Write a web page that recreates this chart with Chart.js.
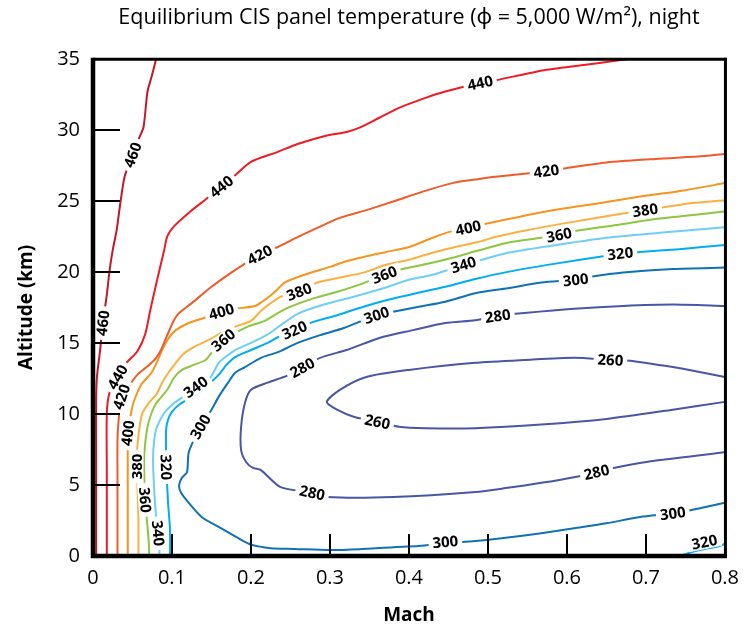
<!DOCTYPE html>
<html><head><meta charset="utf-8">
<script src="https://cdn.jsdelivr.net/npm/chart.js@4.4.1/dist/chart.umd.min.js"></script>
<style>html,body{margin:0;padding:0;background:#fff;} canvas{display:block;}</style>
</head><body>
<canvas id="c" width="749" height="633"></canvas>
<script>
// ---- text ----
const chartTitle = 'Equilibrium CIS panel temperature (\u03D5 = 5,000 W/m\u00B2), night';
const xTitle = 'Mach';
const yTitle = 'Altitude (km)';
// ---- tick values ----
const xTicks = [0, 0.1, 0.2, 0.3, 0.4, 0.5, 0.6, 0.7, 0.8];
const yTicks = [0, 5, 10, 15, 20, 25, 30, 35];
// ---- contour lines: [Mach, altitude km] ----
const c460 = [[0.004,0],[0.004,7.46],[0.004,11],[0.005,12.6],[0.009,14.5],[0.0125,16.4],[0.0175,18.4],[0.021,20.1],[0.025,21.55],[0.03,22.96],[0.034,24.6],[0.04,26.7],[0.05,28.24],[0.059,29.5],[0.064,30.2],[0.069,32.7],[0.074,33.7],[0.08,35]];
const c440 = [[0.0175,0],[0.0175,6],[0.0175,10.1],[0.021,11.5],[0.031,12.6],[0.0425,13.6],[0.056,14.4],[0.066,15.6],[0.0725,17.3],[0.081,19.4],[0.09,21.5],[0.094,22.5],[0.1025,23.2],[0.121,24.15],[0.1425,25.1],[0.1625,26],[0.18,26.8],[0.2,27.75],[0.234,28.45],[0.259,29],[0.296,29.6],[0.321,29.85],[0.3375,30.15],[0.3625,30.85],[0.3875,31.55],[0.421,32.25],[0.446,32.7],[0.49,33.3],[0.511,33.5],[0.571,34.2],[0.634,34.65],[0.68,35]];
const c420 = [[0.031,0],[0.031,5.35],[0.031,8.2],[0.0325,9.6],[0.036,11.2],[0.049,12.25],[0.056,12.75],[0.071,13.45],[0.08,13.95],[0.086,14.5],[0.094,15.55],[0.1025,16.6],[0.109,17.1],[0.125,17.8],[0.15,18.95],[0.175,19.95],[0.19,20.5],[0.211,21.2],[0.234,21.75],[0.259,22.45],[0.284,23.1],[0.3125,23.8],[0.346,24.35],[0.38,24.95],[0.4175,25.65],[0.455,26.25],[0.484,26.5],[0.509,26.7],[0.5525,26.95],[0.574,27.1],[0.599,27.3],[0.65,27.7],[0.7125,27.95],[0.775,28.15],[0.8,28.3]];
const c400 = [[0.044,0],[0.044,5.35],[0.044,7.7],[0.044,8.65],[0.049,10.3],[0.0525,11],[0.061,12.05],[0.074,12.9],[0.081,13.65],[0.0875,14.5],[0.096,15.35],[0.105,15.9],[0.121,16.4],[0.14,16.75],[0.1625,17.2],[0.18,17.4],[0.205,17.6],[0.214,17.9],[0.224,18.3],[0.234,18.8],[0.2425,19.25],[0.2675,19.8],[0.3,20.35],[0.3175,20.7],[0.3425,21.05],[0.371,21.4],[0.4,21.75],[0.43,22.4],[0.45,22.8],[0.475,23.1],[0.499,23.4],[0.5375,23.85],[0.584,24.35],[0.6425,24.85],[0.6925,25.3],[0.75,25.75],[0.8,26.25]];
const c380 = [[0.0575,0],[0.0575,2.55],[0.056,5.35],[0.055,6.3],[0.056,7.6],[0.059,9.1],[0.0625,10.05],[0.071,10.8],[0.08,11.35],[0.0875,12.2],[0.096,12.95],[0.105,13.6],[0.114,14.2],[0.1275,14.7],[0.146,15.2],[0.1625,15.7],[0.18,16.15],[0.2,16.55],[0.2125,17.25],[0.225,17.8],[0.2375,18.25],[0.261,18.6],[0.284,19.25],[0.3125,19.6],[0.3425,19.95],[0.371,20.5],[0.4,20.85],[0.43,21.35],[0.455,21.7],[0.4875,22.1],[0.509,22.45],[0.546,22.9],[0.6,23.45],[0.659,24],[0.699,24.35],[0.759,24.85],[0.8,25.05]];
const c360 = [[0.071,0],[0.071,0.65],[0.069,2.05],[0.066,3.95],[0.065,5.35],[0.065,7.25],[0.069,9.1],[0.074,10.05],[0.08,10.75],[0.094,11.7],[0.1025,12.55],[0.1125,13.1],[0.1275,13.45],[0.1425,13.8],[0.15,14.3],[0.165,15.2],[0.18,15.7],[0.196,16.15],[0.2175,16.55],[0.234,17.1],[0.25,17.55],[0.28,18.15],[0.309,18.6],[0.3375,19.1],[0.369,19.8],[0.3875,20.15],[0.4175,20.5],[0.455,21],[0.4875,21.5],[0.525,22.05],[0.5675,22.4],[0.59,22.6],[0.6125,22.9],[0.6625,23.3],[0.7175,23.75],[0.8,24.25]];
const c340 = [[0.084,0],[0.084,0.55],[0.0825,1.6],[0.08,2.75],[0.0775,4.65],[0.076,6.75],[0.0775,8.15],[0.081,9.1],[0.09,10.05],[0.1,10.65],[0.1125,11.15],[0.13,11.9],[0.149,12.6],[0.159,13.6],[0.1675,14],[0.18,14.5],[0.2,15],[0.221,15.6],[0.234,16.1],[0.259,17.05],[0.2925,17.7],[0.33,18.25],[0.3675,18.85],[0.4,19.45],[0.43,19.8],[0.469,20.5],[0.4925,20.85],[0.525,21.35],[0.5875,21.9],[0.65,22.4],[0.7175,22.75],[0.8,23.15]];
const c320 = [[0.0975,0],[0.0975,1.85],[0.095,3.75],[0.094,4.85],[0.0925,6.25],[0.0925,7.45],[0.0925,8.85],[0.095,9.6],[0.1,10.15],[0.109,10.65],[0.125,11.2],[0.1425,11.9],[0.159,12.75],[0.169,13.45],[0.18,14],[0.2,14.5],[0.221,15],[0.234,15.4],[0.255,15.9],[0.28,16.5],[0.309,16.95],[0.3425,17.55],[0.375,18.05],[0.409,18.5],[0.446,18.95],[0.484,19.5],[0.525,20],[0.5875,20.6],[0.646,21.1],[0.6675,21.3],[0.6925,21.4],[0.7425,21.6],[0.8,21.9]];
const c320b = [[0.744,0],[0.759,0.3],[0.774,0.5],[0.79,0.65],[0.8,0.85]];
const c300 = [[0.8,20.3],[0.734,20.2],[0.671,19.95],[0.63,19.65],[0.611,19.45],[0.5675,19.25],[0.525,18.85],[0.484,18.5],[0.446,17.9],[0.4125,17.55],[0.38,17.2],[0.359,16.95],[0.3175,16.05],[0.2875,15.55],[0.259,15],[0.234,14.35],[0.2125,13.95],[0.1925,13.3],[0.18,12.9],[0.171,12.2],[0.159,11.2],[0.15,10.3],[0.136,9.1],[0.1275,8.15],[0.121,7.25],[0.119,5.9],[0.1125,5.5],[0.109,5],[0.111,4.5],[0.121,3.75],[0.1375,2.75],[0.159,2.05],[0.184,1.25],[0.2,0.8],[0.225,0.55],[0.255,0.5],[0.3,0.42],[0.3375,0.48],[0.38,0.62],[0.4125,0.7],[0.446,0.9],[0.484,1.05],[0.525,1.3],[0.5675,1.6],[0.609,1.95],[0.65,2.3],[0.6925,2.75],[0.734,3],[0.759,3.25],[0.8,3.75]];
const c280 = [[0.8,17.6],[0.734,17.7],[0.671,17.6],[0.609,17.4],[0.546,17.1],[0.5125,16.9],[0.484,16.6],[0.446,16.4],[0.405,15.9],[0.3625,15.35],[0.321,14.5],[0.2875,13.95],[0.265,13.25],[0.246,12.7],[0.221,12.2],[0.2,11.7],[0.1925,10.8],[0.1875,9.1],[0.1875,7.45],[0.194,6.6],[0.2025,6.2],[0.2125,6.05],[0.2375,4.85],[0.2775,4.45],[0.296,4.15],[0.38,4.15],[0.484,4.5],[0.525,4.8],[0.5675,5.15],[0.609,5.55],[0.6375,5.9],[0.659,6.2],[0.7175,6.75],[0.8,7.3]];
const c260 = [[0.8,12.6],[0.755,13.1],[0.734,13.3],[0.68,13.75],[0.655,13.8],[0.609,13.95],[0.546,13.8],[0.484,13.6],[0.4,13.1],[0.346,12.6],[0.3125,11.7],[0.296,10.85],[0.309,10.3],[0.33,9.8],[0.36,9.45],[0.3875,9.1],[0.421,9],[0.484,9],[0.5675,9.25],[0.65,9.65],[0.734,10.3],[0.8,10.85]];
// ---- contour levels and where their inline labels sit (point index) ----
const levels   = [460, 440, 420, 400, 380, 360, 340, 320, 320, 300, 280, 260];
const contours = [c460, c440, c420, c400, c380, c360, c340, c320, c320b, c300, c280, c260];
const labelIdx = [[5,12],[4,15,27],[4,17,29],[3,14,29],[3,21,34],[3,15,24,31],[2,11,25],[4,18,29],[2],[4,11,22,40,47],[5,12,23,30],[4,14]];
const colors   = ['#c1182c','#ed1c24','#f15a29','#f7941d','#fbb040','#8dc63f','#6dcff6','#00aeef','#00aeef','#0f72b5','#4857a5','#4857a5'];

const FONT = '"Open Sans", "Noto Sans", sans-serif';

const datasets = contours.map((c, i) => ({
  label: String(levels[i]),
  level: levels[i],
  labelIdx: labelIdx[i],
  data: c.map(p => ({x: p[0], y: p[1]})),
  showLine: true,
  borderColor: colors[i],
  borderWidth: 2,
  pointRadius: 0,
  tension: 0.25,
  fill: false
}));

const contourLabels = {
  id: 'contourLabels',
  afterDatasetsDraw(chart) {
    const ctx = chart.ctx, xs = chart.scales.x, ys = chart.scales.y;
    const bottom = chart.chartArea.bottom;
    ctx.save();
    ctx.font = 'bold 15px ' + FONT;
    ctx.textAlign = 'center';
    ctx.textBaseline = 'middle';
    chart.data.datasets.forEach(ds => {
      (ds.labelIdx || []).forEach(i => {
        const pts = ds.data;
        const p = pts[i], a = pts[Math.max(0, i - 1)], b = pts[Math.min(pts.length - 1, i + 1)];
        const px = xs.getPixelForValue(p.x);
        let py = ys.getPixelForValue(p.y);
        if (py > bottom - 14) py = bottom - 14; // keep labels clear of the axis
        let ang = Math.atan2(ys.getPixelForValue(b.y) - ys.getPixelForValue(a.y),
                             xs.getPixelForValue(b.x) - xs.getPixelForValue(a.x));
        if (ang > Math.PI / 2 - 0.01) ang -= Math.PI;
        else if (ang < -Math.PI / 2 - 0.01) ang += Math.PI;
        const t = String(ds.level);
        const w = ctx.measureText(t).width;
        ctx.save();
        ctx.translate(px, py);
        ctx.rotate(ang);
        ctx.fillStyle = '#fff';
        ctx.fillRect(-w / 2 - 4, -7, w + 8, 14);
        ctx.fillStyle = '#000';
        ctx.fillText(t, 0, 1);
        ctx.restore();
      });
    });
    ctx.restore();
  }
};

const frame = {
  id: 'frame',
  afterDraw(chart) {
    const ctx = chart.ctx, xs = chart.scales.x, ys = chart.scales.y;
    const {left, right, top, bottom} = chart.chartArea;
    ctx.save();
    ctx.strokeStyle = '#000';
    ctx.lineCap = 'butt';
    const seg = (x1, y1, x2, y2) => { ctx.beginPath(); ctx.moveTo(x1, y1); ctx.lineTo(x2, y2); ctx.stroke(); };
    ctx.lineWidth = 2;
    yTicks.forEach(v => { if (v <= 0 || v >= 35) return; const y = Math.round(ys.getPixelForValue(v)); seg(left, y, left + 27, y); });
    xTicks.forEach(v => { if (v <= 0 || v >= 0.8) return; const x = Math.round(xs.getPixelForValue(v)); seg(x, bottom, x, bottom - 22); });
    ctx.lineWidth = 3;
    seg(left, top + 0.5, right + 1.5, top + 0.5);
    seg(right + 0.5, top - 1, right + 0.5, bottom);
    ctx.lineWidth = 4.5;
    seg(left, top - 1, left, bottom + 2);
    seg(left - 2, bottom, right + 2, bottom);
    ctx.restore();
  }
};

new Chart(document.getElementById('c'), {
  type: 'scatter',
  data: {datasets},
  plugins: [contourLabels, frame],
  options: {
    responsive: false,
    animation: false,
    devicePixelRatio: 1,
    layout: {padding: {left: 0, right: 16, top: 0, bottom: 0}},
    plugins: {
      legend: {display: false},
      tooltip: {enabled: false},
      title: {
        display: true, text: chartTitle, fullSize: false, color: '#000',
        font: {family: FONT, size: 21.5, weight: 'normal'},
        padding: {top: 5, bottom: 28}
      }
    },
    scales: {
      x: {
        type: 'linear', min: 0, max: 0.8,
        afterFit: s => { s.height = 77; },
        afterBuildTicks: s => { s.ticks = xTicks.map(v => ({value: v})); },
        grid: {display: false, drawTicks: false},
        border: {display: false},
        ticks: {color: '#000', font: {family: FONT, size: 20}, padding: 10,
                callback: v => (v === 0 ? '0' : v.toFixed(1))},
        title: {display: true, text: xTitle, color: '#000', font: {family: FONT, size: 19, weight: 'bold'}, padding: {bottom: 6}}
      },
      y: {
        type: 'linear', min: 0, max: 35,
        afterFit: s => { s.width = 93; },
        afterBuildTicks: s => { s.ticks = yTicks.map(v => ({value: v})); },
        grid: {display: false, drawTicks: false},
        border: {display: false},
        ticks: {color: '#000', font: {family: FONT, size: 20}, padding: 13},
        title: {display: true, text: yTitle, color: '#000', font: {family: FONT, size: 19, weight: 'bold'}, padding: {top: 15}}
      }
    }
  }
});
</script>
</body></html>
